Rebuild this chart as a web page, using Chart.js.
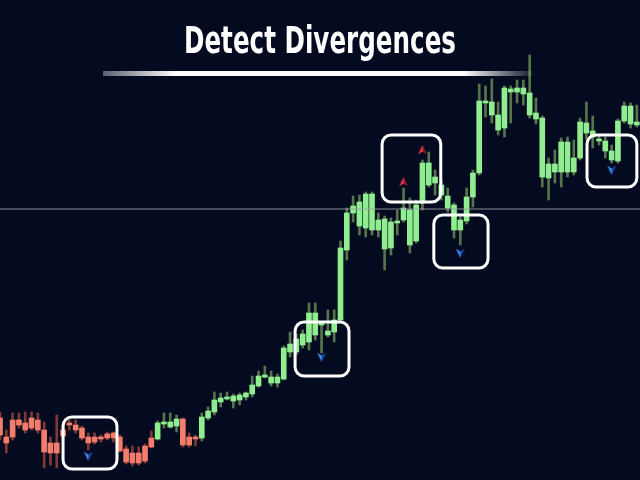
<!DOCTYPE html>
<html>
<head>
<meta charset="utf-8">
<script src="https://cdn.jsdelivr.net/npm/chart.js@4.4.1/dist/chart.umd.min.js"></script>
<style>
  html, body { margin: 0; padding: 0; background: #040a1f; }
  #wrap { width: 640px; height: 480px; position: relative; }
</style>
</head>
<body>
<div id="wrap"><canvas id="chart"></canvas></div>
<script>
// Detect Divergences - candles drawn as floating bars (body + wick)

const headline = 'Detect Divergences';

const opens  = [62, 43, 60, 60, 57, 62, 60, 50, 37, 37, 50, 57, 55, 52, 43, 43, 43, 46, 47, 43,
                31, 27, 27, 34, 42, 41, 56, 53, 54, 61, 43, 43, 42, 62, 68, 78, 81, 79, 80, 83,
                86, 94, 103, 97, 97, 101, 128, 128, 135, 138, 145, 155, 145, 148, 160, 230, 267, 254, 252, 250,
                250, 231, 232, 257, 260, 235, 239, 277, 295, 297, 285, 272, 250, 250, 259, 283, 307, 377, 365, 350,
                352, 388, 388, 386, 365, 361, 303, 302, 308, 308, 308, 308, 322, 347, 343, 339, 329, 320, 319, 359,
                356, 355];
const highs  = [68, 50, 67, 67, 68, 68, 67, 58, 43, 65, 55, 60, 60, 54, 47, 47, 45, 48, 48, 45,
                34, 34, 33, 36, 49, 59, 67, 67, 65, 62, 47, 45, 67, 73, 88, 87, 88, 86, 87, 88,
                104, 109, 114, 109, 106, 134, 148, 146, 150, 177, 177, 157, 170, 170, 239, 272, 284, 285, 288, 288,
                267, 264, 262, 270, 292, 282, 280, 320, 328, 310, 300, 292, 277, 263, 292, 310, 396, 394, 401, 378,
                394, 394, 400, 400, 425, 382, 364, 322, 330, 342, 343, 340, 362, 378, 364, 345, 343, 335, 361, 378,
                377, 375];
const lows   = [40, 27, 40, 52, 47, 50, 47, 12, 15, 12, 40, 50, 47, 40, 30, 36, 38, 40, 38, 28,
                16, 14, 15, 17, 32, 40, 52, 52, 48, 33, 33, 34, 39, 60, 65, 73, 80, 72, 75, 80,
                83, 93, 102, 94, 93, 100, 123, 125, 132, 130, 140, 127, 143, 138, 158, 220, 258, 245, 243, 245,
                243, 210, 225, 245, 258, 227, 237, 270, 293, 285, 280, 268, 242, 235, 256, 273, 305, 363, 357, 345,
                343, 357, 377, 375, 362, 356, 293, 280, 297, 293, 303, 305, 320, 341, 332, 335, 322, 317, 317, 357,
                352, 353];
const closes = [45, 37, 43, 55, 50, 52, 50, 28, 27, 27, 44, 55, 50, 42, 37, 38, 41, 42, 42, 29,
                18, 17, 17, 19, 33, 57, 58, 58, 61, 35, 35, 41, 63, 69, 80, 82, 83, 84, 85, 87,
                95, 104, 105, 103, 103, 132, 136, 141, 146, 167, 167, 156, 149, 160, 232, 267, 274, 278, 286, 286,
                260, 261, 258, 259, 272, 270, 275, 317, 317, 303, 295, 284, 275, 260, 283, 307, 379, 379, 378, 365,
                392, 391, 392, 392, 387, 367, 362, 316, 316, 338, 338, 322, 358, 357, 349, 341, 339, 329, 359, 374,
                374, 358];

// horizontal price level
const levelPrice = 271;

// divergence signals: candle index + price where the arrow sits
const bullDivIdx   = [14, 51, 73, 97];
const bullDivPrice = [24, 123, 227, 310];
const bearDivIdx   = [64, 67];
const bearDivPrice = [298, 330];

// highlighted zones (candle index range, price range)
const zoneFrom = [10.0, 46.8, 60.6, 68.8, 93.1];
const zoneTo   = [18.55, 55.35, 69.9, 77.4, 101.0];
const zoneHigh = [63, 158, 345, 265, 345];
const zoneLow  = [11, 104, 278, 212, 293];

const UP = '#90ee90', DOWN = '#f47c6b';
const UP_WICK = '#56754d', DOWN_WICK = '#7e3a33';

const isUp = opens.map((o, i) => closes[i] >= o);

function arrowIcon(light, dark, down) {
    const c = document.createElement('canvas');
    c.width = 10; c.height = 10;
    const g = c.getContext('2d');
    if (down) { g.translate(0, 10); g.scale(1, -1); }
    // tip at top, wings at bottom, notch in the middle
    g.fillStyle = light;
    g.beginPath(); g.moveTo(5, 0); g.lineTo(0.5, 9.5); g.lineTo(5, 6.5); g.closePath(); g.fill();
    g.fillStyle = dark;
    g.beginPath(); g.moveTo(5, 0); g.lineTo(9.5, 9.5); g.lineTo(5, 6.5); g.closePath(); g.fill();
    return c;
}

const zonesPlugin = {
    id: 'zones',
    afterDatasetsDraw(chart) {
        const { ctx, scales: { x, y } } = chart;
        ctx.save();
        ctx.strokeStyle = '#ffffff';
        ctx.lineWidth = 3;
        zoneFrom.forEach((f, i) => {
            const l = x.getPixelForValue(f), r = x.getPixelForValue(zoneTo[i]);
            const t = y.getPixelForValue(zoneHigh[i]), b = y.getPixelForValue(zoneLow[i]);
            ctx.beginPath();
            ctx.roundRect(l, t, r - l, b - t, 9);
            ctx.stroke();
        });
        ctx.restore();
    }
};

const headlinePlugin = {
    id: 'headline',
    afterDraw(chart) {
        const { ctx, width } = chart;
        ctx.save();
        ctx.font = 'bold 37px "DejaVu Sans", sans-serif';
        ctx.fillStyle = '#ffffff';
        ctx.textAlign = 'center';
        ctx.textBaseline = 'alphabetic';
        const cx = width / 2, base = 53;
        // squeeze the text to a condensed look
        const sx = 272 / ctx.measureText(headline).width;
        ctx.save();
        ctx.translate(cx, base);
        ctx.scale(sx, 1);
        ctx.fillText(headline, 0, 0);
        ctx.restore();
        // fading underline
        const x0 = 103, x1 = 532;
        const grad = ctx.createLinearGradient(x0, 0, x1, 0);
        grad.addColorStop(0, 'rgba(255,255,255,0.35)');
        grad.addColorStop(0.17, '#ffffff');
        grad.addColorStop(0.84, '#ffffff');
        grad.addColorStop(1, 'rgba(255,255,255,0.08)');
        ctx.fillStyle = grad;
        ctx.fillRect(x0, base + 18, x1 - x0, 5);
        ctx.restore();
    }
};

const lastX = opens.length - 0.5;

new Chart(document.getElementById('chart'), {
    type: 'bar',
    data: {
        datasets: [{
            type: 'line',
            label: 'Level',
            data: [{ x: 0, y: levelPrice }, { x: lastX, y: levelPrice }],
            borderColor: 'rgba(160,163,172,0.85)',
            borderWidth: 1,
            pointRadius: 0,
            order: 0
        }, {
            type: 'line',
            label: 'Bullish divergence',
            data: bullDivIdx.map((k, i) => ({ x: k, y: bullDivPrice[i] })),
            showLine: false,
            pointStyle: arrowIcon('#3d8ff2', '#1a4aa6', true),
            pointRadius: 5,
            order: 1
        }, {
            type: 'line',
            label: 'Bearish divergence',
            data: bearDivIdx.map((k, i) => ({ x: k, y: bearDivPrice[i] })),
            showLine: false,
            pointStyle: arrowIcon('#ee3a4c', '#9a1c2a', false),
            pointRadius: 5,
            order: 1
        }, {
            label: 'Body',
            data: opens.map((o, i) => ({ x: i, y: [o, closes[i]] })),
            backgroundColor: isUp.map(u => u ? UP : DOWN),
            barThickness: 5,
            minBarLength: 1.5,
            grouped: false,
            order: 2
        }, {
            label: 'Wick',
            data: opens.map((o, i) => ({ x: i, y: [lows[i], highs[i]] })),
            backgroundColor: isUp.map(u => u ? UP_WICK : DOWN_WICK),
            barThickness: 2,
            grouped: false,
            order: 3
        }]
    },
    options: {
        responsive: true,
        maintainAspectRatio: false,
        animation: false,
        events: [],
        layout: { padding: 0, autoPadding: false },
        plugins: {
            legend: { display: false },
            title: { display: false },
            tooltip: { enabled: false }
        },
        scales: {
            x: { type: 'linear', min: 0, max: lastX, offset: false, display: false },
            y: { min: 0, max: 480, display: false }
        }
    },
    plugins: [zonesPlugin, headlinePlugin]
});
</script>
</body>
</html>
